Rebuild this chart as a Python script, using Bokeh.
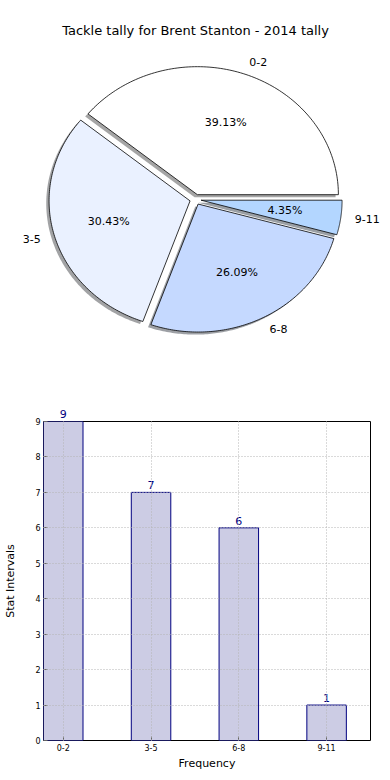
import numpy as np
from bokeh.plotting import figure
from bokeh.models import Range1d, Label, LinearAxis, FixedTicker
from bokeh.core.properties import value
from bokeh.embed import file_html
from bokeh.resources import INLINE

# ---- data ----
categories = ["0-2", "3-5", "6-8", "9-11"]
tackle_counts = [9, 7, 6, 1]
pie_colors = ["#FFFFFF", "#EAF1FF", "#C5D9FF", "#B3D6FF"]
explode = [0.04, 0.04, 0.04, 0.04]
chart_title = "Tackle tally for Brent Stanton - 2014 tally"
y_ticks = list(range(0, 10))
x_label = "Frequency"
y_label = "Stat Intervals"

FONT = "DejaVu Sans"

# ---- layout constants (px) ----
W = 388
PH = 358          # pie figure height
BH = 420          # bar figure height
FL, FR = 43, 370  # bar frame left/right
CX, CY = 195.0, 199.0   # pie centre on page
sx, sy = 141.0, 128.0   # px per unit radius (non-equal aspect)

# ---- pie ----
pie = figure(width=W, height=PH, output_backend="svg", toolbar_location=None,
             x_range=Range1d(-CX / sx, (W - CX) / sx),
             y_range=Range1d(-(PH - CY) / sy, CY / sy),
             min_border=0, outline_line_color=None)
pie.axis.visible = False
pie.grid.visible = False

counts = np.array(tackle_counts, dtype=float)
fracs = counts / counts.sum()
edges = np.concatenate([[0.0], np.cumsum(fracs)]) * 2 * np.pi

xs, ys, sxs, sys_ = [], [], [], []
pct_x, pct_y, pct_t = [], [], []
lab_x, lab_y, lab_t, lab_al = [], [], [], []
for i, f in enumerate(fracs):
    a0, a1 = edges[i], edges[i + 1]
    mid = 0.5 * (a0 + a1)
    ox, oy = explode[i] * np.cos(mid), explode[i] * np.sin(mid)
    t = np.linspace(a0, a1, 120)
    px = np.concatenate([[ox], ox + np.cos(t), [ox]])
    py = np.concatenate([[oy], oy + np.sin(t), [oy]])
    xs.append(px); ys.append(py)
    sxs.append(px - 0.02); sys_.append(py - 0.02)
    pct_x.append(ox + 0.6 * np.cos(mid)); pct_y.append(oy + 0.6 * np.sin(mid))
    pct_t.append(f"{f * 100:.2f}%")
    lx = ox + 1.1 * np.cos(mid)
    lab_x.append(lx); lab_y.append(oy + 1.1 * np.sin(mid))
    lab_t.append(categories[i]); lab_al.append("left" if lx > 0 else "right")

shadow_cols = []
for c in pie_colors:
    r, g, b = int(c[1:3], 16), int(c[3:5], 16), int(c[5:7], 16)
    shadow_cols.append("#%02x%02x%02x" % (int(r * 0.3), int(g * 0.3), int(b * 0.3)))

pie.patches(sxs, sys_, fill_color=shadow_cols, fill_alpha=0.5, line_color=None)
pie.patches(xs, ys, fill_color=pie_colors, line_color="black", line_width=0.8)

pie.text(x=pct_x, y=pct_y, text=pct_t, text_align="center", text_baseline="middle",
         text_font=value(FONT), text_font_size="11px", text_color="black")
pie.text(x=lab_x, y=lab_y, text=lab_t, text_align=lab_al, text_baseline="middle",
         text_font=value(FONT), text_font_size="11px", text_color="black")

pie.add_layout(Label(x=0, y=(CY - 30) / sy, text=chart_title, text_align="center",
                     text_baseline="middle", text_font=FONT, text_font_size="13px",
                     text_color="black"))

# ---- bar ----
positions = list(range(len(categories)))
y_top = y_ticks[-1]
inside = [i for i, v in enumerate(tackle_counts) if v < y_top]
at_top = [i for i, v in enumerate(tackle_counts) if v >= y_top]

bar = figure(width=W, height=BH, output_backend="svg", toolbar_location=None,
             x_range=Range1d(-0.225, 3.5), y_range=Range1d(0, y_top),
             min_border_left=FL, min_border_right=W - FR,
             min_border_top=421 - PH, min_border_bottom=PH + BH - 740,
             outline_line_color="black", outline_line_width=1)
bar.vbar(x=positions, top=tackle_counts, width=0.45, fill_color="#CCCCE4",
         line_color="#000080", line_width=1)
bar.text(x=[positions[i] for i in inside], y=[tackle_counts[i] for i in inside],
         text=[str(tackle_counts[i]) for i in inside], text_align="center",
         text_baseline="alphabetic", y_offset=-7, text_font=value(FONT),
         text_font_size="11px", text_color="#000080")

xt = FixedTicker(ticks=positions)
yt = FixedTicker(ticks=y_ticks)
bar.xaxis.ticker = xt
bar.yaxis.ticker = yt
bar.xaxis.major_label_overrides = {p: c for p, c in zip(positions, categories)}
for ax in (bar.xaxis[0], bar.yaxis[0]):
    ax.major_tick_in = 4
    ax.major_tick_out = 0
    ax.minor_tick_in = 0
    ax.minor_tick_out = 0
    ax.axis_line_color = None
    ax.major_tick_line_color = "#666666"
    ax.major_label_text_font = FONT
    ax.major_label_text_font_size = "8px"
    ax.major_label_text_color = "black"
    ax.axis_label_text_font = FONT
    ax.axis_label_text_font_size = "11px"
    ax.axis_label_text_font_style = "normal"
    ax.axis_label_text_color = "black"
    ax.major_label_standoff = 3
bar.xaxis.axis_label = x_label
bar.yaxis.axis_label = y_label
bar.xaxis.axis_label_standoff = 3
bar.yaxis.axis_label_standoff = 15

# value labels of bars reaching the top of the frame sit above it
top_axis = LinearAxis(ticker=FixedTicker(ticks=[positions[i] for i in at_top]),
                      major_label_overrides={positions[i]: str(tackle_counts[i]) for i in at_top},
                      major_tick_in=0, major_tick_out=0, minor_tick_in=0, minor_tick_out=0,
                      axis_line_color=None, major_label_standoff=4,
                      major_label_text_font=FONT, major_label_text_font_size="11px",
                      major_label_text_color="#000080")
bar.add_layout(top_axis, "above")

bar.xgrid.ticker = xt
bar.ygrid.ticker = yt
bar.grid.grid_line_color = "#b4b4b4"
bar.grid.grid_line_dash = "1 2"
bar.grid.grid_line_width = 1
bar.grid.level = "overlay"

open("out.html", "w").write(file_html([pie, bar], INLINE))
